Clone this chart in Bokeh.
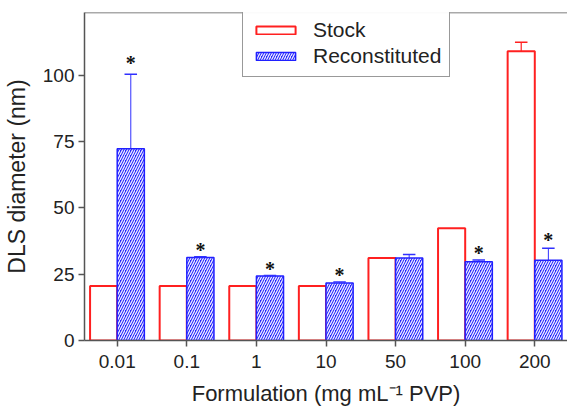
from bokeh.plotting import figure
from bokeh.models import (ColumnDataSource, FixedTicker, Range1d, Span, Legend, LegendItem,
                          Whisker, LabelSet)
from bokeh.transform import dodge
from bokeh.embed import file_html
from bokeh.resources import INLINE

categories = ["0.01", "0.1", "1", "10", "50", "100", "200"]
stock = [20.5, 20.5, 20.5, 20.5, 31.1, 42.3, 109.0]
stock_err = [0.0, 0.0, 0.0, 0.0, 0.0, 0.0, 3.4]
recon = [72.3, 31.3, 24.3, 21.7, 31.1, 29.7, 30.2]
recon_err = [28.0, 0.3, 0.2, 0.3, 1.3, 0.6, 4.6]
star_y = [106.0, 35.5, 28.5, 26.2, None, 34.5, 39.5]
y_ticks = [0, 25, 50, 75, 100]

idx = list(range(len(categories)))
src = ColumnDataSource(dict(idx=idx, stock=stock, recon=recon))
has_err_s = [i for i, e in enumerate(stock_err) if e > 0]
has_err_r = [i for i, e in enumerate(recon_err) if e > 0]
src_se = ColumnDataSource(dict(idx=has_err_s, base=[stock[i] for i in has_err_s],
                               up=[stock[i] + stock_err[i] for i in has_err_s]))
src_re = ColumnDataSource(dict(idx=has_err_r, base=[recon[i] for i in has_err_r],
                               up=[recon[i] + recon_err[i] for i in has_err_r]))
star_idx = [i for i, v in enumerate(star_y) if v is not None]
src_star = ColumnDataSource(dict(idx=star_idx, y=[star_y[i] for i in star_idx],
                                 t=["*"] * len(star_idx)))

FONT = "Liberation Sans"
p = figure(width=567, height=408, output_backend="svg", toolbar_location=None,
           x_range=Range1d(-0.47, 6.47), y_range=Range1d(0, 123.6),
           min_border_left=82, min_border_right=0, min_border_top=12, min_border_bottom=66)
p.outline_line_color = None
p.grid.visible = False
p.background_fill_color = "white"

w = 0.39
rs = p.vbar(x=dodge("idx", -w / 2, range=p.x_range), top="stock", width=w, source=src,
            fill_color="white", line_color="#ff2020", line_width=2)
rr = p.vbar(x=dodge("idx", w / 2, range=p.x_range), top="recon", width=w, source=src,
            fill_color="#2424ff", line_color="#2020ff", line_width=1.5,
            hatch_pattern="right_diagonal_line", hatch_color="#eeeeff", hatch_weight=1.3,
            hatch_scale=5)

ws = Whisker(source=src_se, base=dodge("idx", -w / 2, range=p.x_range), lower="base", upper="up",
             line_color="#ff2020", line_width=1.2, upper_head=None, lower_head=None)
wr = Whisker(source=src_re, base=dodge("idx", w / 2, range=p.x_range), lower="base", upper="up",
             line_color="#3030ff", line_width=1, upper_head=None, lower_head=None)
p.add_layout(ws)
p.add_layout(wr)
p.segment(x0=dodge("idx", -w / 2 - 0.09, range=p.x_range), x1=dodge("idx", -w / 2 + 0.09, range=p.x_range),
          y0="up", y1="up", source=src_se, line_color="#ff2020", line_width=1.5)
p.segment(x0=dodge("idx", w / 2 - 0.09, range=p.x_range), x1=dodge("idx", w / 2 + 0.09, range=p.x_range),
          y0="up", y1="up", source=src_re, line_color="#3030ff", line_width=1.5)

stars = LabelSet(x=dodge("idx", w / 2, range=p.x_range), y="y", text="t", source=src_star,
                 text_align="center", text_baseline="middle", text_font=FONT,
                 text_font_size="20px", text_font_style="bold", text_color="#111111", y_offset=-4)
p.add_layout(stars)

p.add_layout(Span(location=123.6, dimension="width", line_color="#555555", line_width=1.5))

p.xaxis.ticker = FixedTicker(ticks=idx)
p.xaxis.major_label_overrides = {i: c for i, c in enumerate(categories)}
p.yaxis.ticker = FixedTicker(ticks=y_ticks)
for ax in (p.xaxis, p.yaxis):
    ax.axis_line_color = "#555555"
    ax.axis_line_width = 1.5
    ax.major_tick_line_color = "#555555"
    ax.major_tick_line_width = 1.5
    ax.minor_tick_line_color = None
    ax.major_tick_in = 0
    ax.major_tick_out = 6
    ax.major_label_text_font = FONT
    ax.major_label_text_font_size = "19px"
    ax.major_label_text_color = "#222222"
    ax.axis_label_text_font = FONT
    ax.axis_label_text_font_style = "normal"
    ax.axis_label_text_color = "#222222"
p.xaxis.axis_label_text_font_size = "22px"
p.yaxis.axis_label_text_font_size = "23px"
p.xaxis.axis_label = "Formulation (mg mL⁻¹ PVP)"
p.yaxis.axis_label = "DLS diameter (nm)"
p.xaxis.major_label_standoff = 8
p.xaxis.axis_label_standoff = 10
p.yaxis.major_label_standoff = 4
p.yaxis.axis_label_standoff = 10

legend = Legend(items=[LegendItem(label="Stock", renderers=[rs]),
                       LegendItem(label="Reconstituted", renderers=[rr])],
                location=(158, 263), glyph_width=49, glyph_height=10,
                label_text_font=FONT, label_text_font_size="21px", label_text_color="#222222",
                border_line_color="#333333", border_line_width=1.5,
                padding=8, spacing=2, margin=0, label_standoff=13, label_height=24)
p.add_layout(legend)

open("out.html", "w").write(file_html(p, INLINE))
